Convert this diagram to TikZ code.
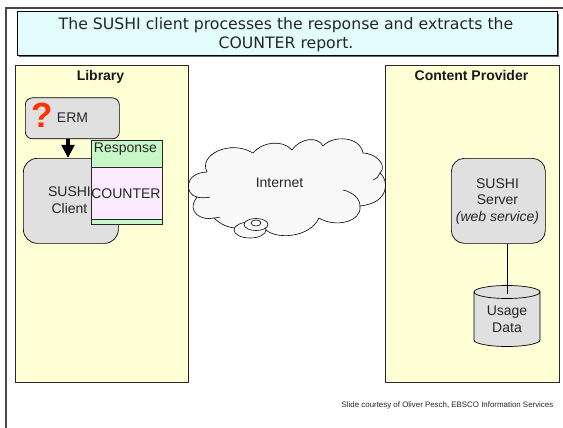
\documentclass[tikz,border=0pt]{standalone}
\usepackage{fontspec}
\setmainfont{Liberation Sans}
\newfontfamily\titlefont{DejaVu Sans}
\usetikzlibrary{arrows.meta}
\definecolor{panelyellow}{HTML}{FFFFD5}
\definecolor{boxgrey}{HTML}{E0E0E0}
\definecolor{titleblue}{HTML}{E3FDFF}
\definecolor{respgreen}{HTML}{C8F8C8}
\definecolor{counterpink}{HTML}{FCEBFF}
\definecolor{cloudfill}{HTML}{F9F9F9}
\definecolor{qred}{HTML}{FF3300}
\tikzset{
  panel/.style={draw=black!85,fill=panelyellow,line width=0.8pt,minimum width=#1,minimum height=317pt,inner sep=0pt,anchor=north west},
  panellabel/.style={font=\fontsize{14}{16}\selectfont\bfseries,text=black!90,inner sep=0pt,anchor=base},
  greybox/.style={draw=black,fill=boxgrey,line width=0.7pt,rounded corners=#1,inner sep=0pt,anchor=north west,align=center},
  resp/.style={draw=black!85,line width=0.8pt,inner sep=0pt,anchor=north west,minimum width=70.5pt},
  lbl/.style={font=\fontsize{14}{16.7}\selectfont,text=black!85,inner sep=0pt,align=center},
  cloudline/.style={line width=0.6pt}
}
\begin{document}
\begin{tikzpicture}[x=1pt,y=-1pt]
\useasboundingbox (0,0) rectangle (563,428);
\fill[white] (0,0) rectangle (563,428);
\coordinate (fa) at (5.5,428);
\coordinate (fb) at (5.5,8.5);
\coordinate (fc) at (563,8.5);
\draw[black!72,line width=2pt] (fa) -- (fb) -- (fc);
\fill[black!60] (19,14) rectangle (559,57.5);
\node[draw=black,fill=titleblue,line width=0.8pt,minimum width=540pt,minimum height=44pt,inner sep=0pt,anchor=north west] (title) at (17,11) {};
\node[font=\titlefont\fontsize{15.7}{18.8}\selectfont,align=center,text=black!85,inner sep=0pt] (titlet) at (286,34.5)
  {The SUSHI client processes the response and extracts the\\COUNTER report.};
\node[panel=173pt] (lib) at (15,65) {};
\node[panellabel] (libl) at (100.5,81) {Library};
\node[panel=174pt] (cp) at (385,65) {};
\node[panellabel] (cpl) at (471.5,81) {Content Provider};
\node[greybox=7pt,minimum width=94pt,minimum height=41pt] (erm) at (25,97.5) {};
\node[lbl,anchor=base] (ermt) at (72.5,122) {ERM};
\node[font=\fontsize{35}{35}\selectfont\bfseries,text=qred,inner sep=0pt] (q) at (42,115) {?};
\node[greybox=14pt,minimum width=95pt,minimum height=85pt] (client) at (23,158) {};
\node[lbl] (clientt) at (69.5,200.5) {SUSHI\\Client};
\coordinate (arrowx) at (68,0);
\draw[line width=4.5pt,-{Triangle[width=12.5pt,length=13pt]}] (erm.south -| arrowx) -- (client.north -| arrowx);
\node[resp,fill=respgreen,minimum height=84pt] (resp) at (91,140) {};
\node[resp,fill=counterpink,minimum height=52pt] (ctr) at (91,167) {};
\node[lbl,anchor=base] (respt) at (125.5,153) {Response};
\node[lbl,anchor=base] (ctrt) at (126,198) {COUNTER};
\draw[fill=cloudfill,cloudline]
  (253,153) .. controls (262,142) and (282,139) .. (292,150)
  .. controls (300,138) and (318,136) .. (323,146)
  .. controls (333,135) and (360,136) .. (363,153)
  .. controls (375,153) and (388,165) .. (380,173)
  .. controls (389,180) and (390,203) .. (360,206)
  .. controls (362,222) and (335,228) .. (319,218)
  .. controls (310,238) and (275,240) .. (265,229)
  -- (237,228) .. controls (228,228) and (220,224) .. (214,218)
  .. controls (203,221) and (185,213) .. (197,197)
  .. controls (185,195) and (183,173) .. (207,172)
  .. controls (198,155) and (230,139) .. (253,153) -- cycle;
\draw[cloudline] (210,197) .. controls (205,198) and (201,198) .. (197,197);
\draw[cloudline] (214,218) .. controls (216,218) and (218,217.5) .. (220,217);
\draw[cloudline] (343,190) .. controls (352,192) and (360,198) .. (360,206);
\draw[cloudline] (373,180) .. controls (377,178.5) and (379,176) .. (380,173);
\node[lbl,anchor=base] (net) at (279.5,187) {Internet};
\draw[fill=cloudfill,cloudline] (250,230) ellipse (16pt and 8pt);
\draw[fill=cloudfill,cloudline] (256,224.5) ellipse (12pt and 6pt);
\draw[fill=cloudfill,cloudline] (256,223) ellipse (5pt and 3pt);
\node[greybox=13pt,minimum width=94pt,minimum height=85pt] (server) at (451,158) {};
\node[lbl] (servert) at (497.5,201.5) {SUSHI\\Server\\\itshape(web service)};
\draw[fill=boxgrey,line width=0.7pt] (474,292) -- (474,340) arc[start angle=180,end angle=360,x radius=33pt,y radius=6.5pt] -- (540,292) arc[start angle=0,end angle=180,x radius=33pt,y radius=6.5pt] -- cycle;
\draw[line width=0.7pt] (474,292) arc[start angle=180,end angle=360,x radius=33pt,y radius=6.5pt];
\node[lbl] (data) at (507,319.5) {Usage\\Data};
\coordinate (linkend) at (507,294);
\draw[line width=0.7pt] (server.south -| linkend) -- (linkend);
\node[font=\fontsize{7.9}{9}\selectfont,text=black!85,inner sep=0pt,anchor=east] (credit) at (553.5,405) {Slide courtesy of Oliver Pesch, EBSCO Information Services};
\end{tikzpicture}
\end{document}
